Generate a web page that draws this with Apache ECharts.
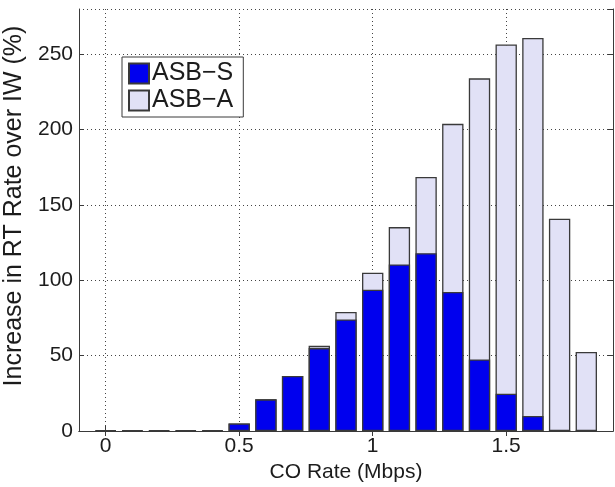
<!DOCTYPE html>
<html>
<head>
<meta charset="utf-8">
<title>ASB rate increase</title>
<script src="https://cdn.jsdelivr.net/npm/echarts@6/dist/echarts.min.js"></script>
<style>
  html, body { margin: 0; padding: 0; background: #fff; }
  #chart { width: 615px; height: 487px; }
</style>
</head>
<body>
<div id="chart"></div>
<script>
// x categories: CO rate in Mbps, padded by one empty slot each side
const categories = ['-0.1', '0', '0.1', '0.2', '0.3', '0.4', '0.5', '0.6', '0.7', '0.8', '0.9',
  '1', '1.1', '1.2', '1.3', '1.4', '1.5', '1.6', '1.7', '1.8', '1.9']
const xTickLabels = ['0', '0.5', '1', '1.5']

// increase in RT rate over IW (%)
const asbS = [null, 0.6, 0.6, 0.6, 0.6, 0.6, 5, 21, 36.5, 55, 74,
  93.7, 110.5, 118, 92.2, 47.5, 24.7, 10, 0, 0, null]
const asbA = [null, 0.6, 0.6, 0.6, 0.6, 0.6, 5, 21, 36.5, 56.5, 79,
  105, 135.3, 168.6, 203.8, 234, 256.4, 260.8, 140.8, 52.4, null]

const font = "'Liberation Sans', Arial, Helvetica, sans-serif"
const ink = '#1c1c1c'
const frame = '#3a3a3a'
const showTick = (i, v) => xTickLabels.includes(v)

const chart = echarts.init(document.getElementById('chart'), null, { renderer: 'canvas' })

const option = {
  animation: false,
  grid: { left: 79, right: 2, top: 9, bottom: 56, outerBoundsMode: 'none' },
  legend: {
    data: ['ASB-S', 'ASB-A'],
    orient: 'vertical',
    left: 122,
    top: 57,
    padding: [4, 10, 4, 6],
    itemWidth: 20,
    itemHeight: 20,
    itemGap: 2,
    icon: 'rect',
    backgroundColor: '#fff',
    borderColor: frame,
    borderWidth: 1,
    borderRadius: 0,
    formatter: (name) => name.replace('-', '\u2212'),
    textStyle: { fontFamily: font, fontSize: 25, lineHeight: 25, color: ink, padding: [0, 0, 0, -2] }
  },
  xAxis: [
    {
      type: 'category',
      data: categories,
      boundaryGap: false,
      name: 'CO Rate (Mbps)',
      nameLocation: 'middle',
      nameGap: 24,
      nameTextStyle: { fontFamily: font, fontSize: 21, color: ink },
      axisLine: { onZero: false, lineStyle: { color: frame, width: 1 } },
      axisTick: { inside: true, length: 5, interval: showTick, lineStyle: { color: frame } },
      axisLabel: { interval: showTick, margin: 5, fontFamily: font, fontSize: 21, color: ink },
      splitLine: { show: true, interval: showTick, lineStyle: { color: '#444', type: [1, 3] } }
    },
    {
      type: 'category',
      data: categories,
      boundaryGap: false,
      position: 'top',
      axisLine: { lineStyle: { color: frame, width: 1 } },
      axisTick: { inside: true, length: 5, interval: showTick, lineStyle: { color: frame } },
      axisLabel: { show: false },
      splitLine: { show: false }
    }
  ],
  yAxis: [
    {
      type: 'value',
      min: 0,
      max: 280,
      interval: 50,
      name: 'Increase in RT Rate over IW (%)',
      nameLocation: 'middle',
      nameGap: 47,
      nameTextStyle: { fontFamily: font, fontSize: 25, color: ink, padding: [0, 0, 0, 28] },
      axisLine: { show: true, lineStyle: { color: frame, width: 1 } },
      axisTick: { show: true, inside: true, length: 5, lineStyle: { color: frame } },
      axisLabel: { showMaxLabel: false, margin: 6, fontFamily: font, fontSize: 21, color: ink },
      splitLine: { show: true, lineStyle: { color: '#444', type: [1, 3] } }
    },
    {
      type: 'value',
      min: 0,
      max: 280,
      interval: 50,
      position: 'right',
      axisLine: { show: true, lineStyle: { color: frame, width: 1 } },
      axisTick: { show: true, inside: true, length: 5, lineStyle: { color: frame } },
      axisLabel: { show: false },
      splitLine: { show: false }
    }
  ],
  series: [
    {
      name: 'ASB-A',
      type: 'bar',
      data: asbA,
      barWidth: '80%',
      barGap: '-100%',
      itemStyle: { color: '#e1e1f6', borderColor: frame, borderWidth: 1.3 }
    },
    {
      name: 'ASB-S',
      type: 'bar',
      data: asbS,
      barWidth: '80%',
      barGap: '-100%',
      itemStyle: { color: '#0000ee', borderColor: frame, borderWidth: 1.3 }
    }
  ]
}

chart.setOption(option)
</script>
</body>
</html>
